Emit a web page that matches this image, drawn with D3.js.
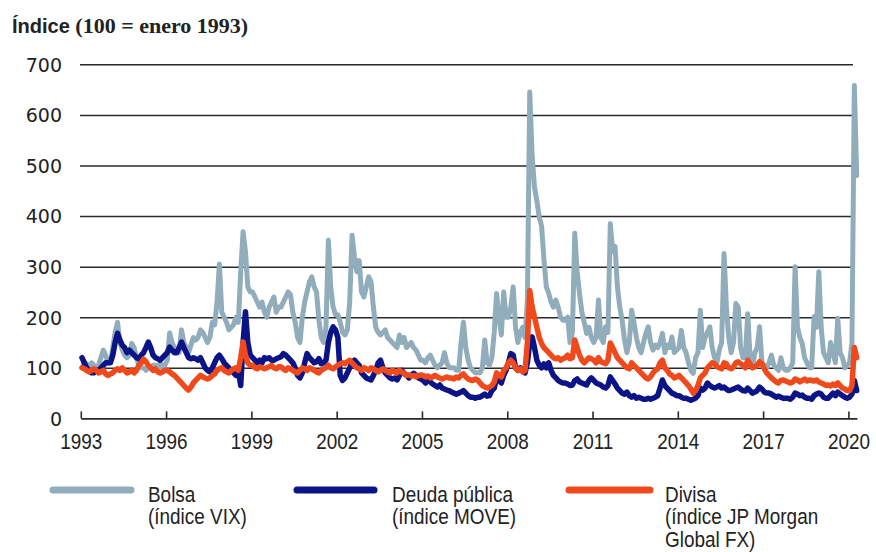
<!DOCTYPE html>
<html><head><meta charset="utf-8">
<script src="https://cdn.jsdelivr.net/npm/d3@7"></script>
<style>
html,body{margin:0;padding:0;background:#fff;}
svg{display:block;}
</style></head>
<body>
<svg id="chart" width="876" height="552"></svg>
<script>
// ---- DATA (monthly, starting January 1993; index 100 = January 1993) ----
const startYear = 1993;
const xTickYears = [1993, 1996, 1999, 2002, 2005, 2008, 2011, 2014, 2017, 2020];
const yTicks = [0, 100, 200, 300, 400, 500, 600, 700];
const seriesNames = ["Bolsa", "Deuda pública", "Divisa"];
const legendLines = [["Bolsa", "(índice VIX)"], ["Deuda pública", "(índice MOVE)"], ["Divisa", "(índice JP Morgan", "Global FX)"]];
const titleMain = "Índice";
const titleRest = "(100 = enero 1993)";

const bolsa = [
100,110,108,100,110,105,100,105,120,135,125,110,
110,140,170,190,150,135,125,120,125,148,140,120,
105,100,100,95,100,100,105,105,100,110,100,105,
115,169,150,140,135,130,175,150,140,130,145,160,
155,160,175,170,160,150,160,190,185,230,305,210,
200,190,175,180,185,200,190,290,369,330,260,250,
250,240,230,220,230,210,200,220,230,240,210,220,
220,230,240,250,245,210,190,160,150,200,230,250,
270,280,260,250,194,160,150,180,352,260,220,205,
205,190,170,165,175,230,362,320,290,312,250,240,
260,280,270,220,180,170,165,170,175,160,155,150,
145,140,165,150,160,140,145,150,140,135,125,115,
115,110,120,125,115,105,100,105,110,130,110,100,
100,100,95,95,150,190,140,115,100,95,90,90,
90,100,155,110,105,120,170,247,200,165,250,200,
200,220,260,180,150,170,180,160,234,645,520,457,
430,398,380,313,260,247,230,220,234,220,200,194,
194,200,150,170,366,290,247,210,190,168,180,160,
150,160,234,160,150,181,170,385,330,340,260,220,
194,155,130,150,214,190,160,140,130,150,168,181,
150,135,145,140,150,168,130,145,140,161,130,135,
140,174,140,130,110,95,89,120,130,214,140,160,
170,181,140,120,110,135,150,326,220,160,130,150,
227,220,140,120,120,207,120,100,130,140,181,110,
105,100,110,125,105,100,95,120,100,95,95,100,
110,300,180,160,148,120,110,100,100,201,180,290,
180,130,120,110,150,130,110,198,130,120,100,105,
110,150,658,480];

const deuda = [
120,110,100,95,90,90,95,95,100,105,110,110,
110,125,150,168,155,145,140,130,135,130,125,120,
118,125,130,140,151,140,125,120,118,115,120,125,
130,141,135,130,130,140,151,140,130,120,118,120,
118,115,120,110,100,95,92,100,110,120,125,118,
110,105,100,95,90,85,95,65,150,211,150,125,
120,115,110,115,110,120,118,120,115,115,118,120,
122,128,125,120,115,110,100,85,80,90,110,128,
120,115,110,112,118,108,110,115,150,170,181,175,
160,85,75,80,90,100,110,115,110,105,90,85,
80,78,76,85,95,110,115,100,90,85,80,78,
80,76,85,95,89,85,80,85,89,85,80,78,
75,70,80,72,68,65,62,66,60,58,56,55,
52,50,48,50,52,55,50,45,42,42,40,42,
42,45,48,44,45,55,60,80,75,70,85,95,
110,128,125,100,95,100,95,90,110,150,161,140,
115,105,100,108,100,110,95,85,80,75,72,70,
70,68,65,66,75,78,72,70,68,66,75,80,
75,70,68,66,62,60,65,82,75,68,60,55,
50,48,52,45,42,45,40,42,40,38,38,40,
38,40,42,45,60,76,65,60,55,50,48,45,
45,42,40,40,38,36,38,40,45,60,56,60,
70,65,62,60,62,65,60,62,58,55,56,58,
60,62,58,55,54,60,55,50,52,55,62,58,
52,50,50,48,45,42,44,42,40,40,40,38,
42,50,48,45,46,42,40,40,38,45,48,50,
48,42,40,40,45,50,45,52,48,45,42,40,
42,48,75,55];

const divisa = [
100,98,95,92,95,98,95,90,92,95,88,85,
88,90,95,98,95,100,95,90,92,95,90,95,
105,110,117,112,105,100,95,98,92,90,92,95,
95,92,88,85,80,75,70,65,60,56,62,70,
75,80,85,82,80,78,80,85,88,95,98,100,
95,92,90,95,98,100,95,120,151,125,110,105,
105,100,98,102,100,98,100,102,105,100,98,102,
102,98,95,100,98,95,92,90,95,100,98,95,
100,98,95,92,90,95,98,100,105,100,98,102,
105,108,110,108,112,115,110,105,100,98,95,100,
98,95,100,98,95,92,95,98,95,92,90,95,
92,90,95,92,88,85,86,84,85,82,85,86,
85,82,84,80,82,85,82,80,78,80,82,80,
80,78,82,80,85,88,82,78,76,75,78,76,
70,65,62,60,62,65,72,90,85,82,95,100,
110,115,110,100,95,98,92,95,150,253,220,200,
180,160,148,140,135,130,125,120,118,120,115,118,
120,125,118,120,155,140,125,115,110,115,120,118,
115,110,120,112,110,108,115,149,140,130,120,115,
110,105,100,98,110,105,100,95,90,85,80,78,
82,90,95,98,110,115,100,95,88,85,80,82,
85,80,75,70,65,58,50,55,65,80,85,90,
100,105,110,108,102,100,98,110,108,100,98,102,
110,112,108,105,100,115,108,100,102,105,112,108,
98,90,85,80,76,72,70,75,76,74,72,70,
72,78,76,72,75,78,74,76,75,74,76,72,
70,68,65,66,64,68,65,70,65,60,58,55,
55,65,140,120];

const colors = ["#91adbb", "#0b1487", "#f0491c"];

// ---- LAYOUT ----
const svg = d3.select("#chart");
const x0 = 80.8, yearPx = 28.43;
const x = d3.scaleLinear().domain([1993, 2020.3]).range([x0, x0 + 27.3 * yearPx]);
const y = d3.scaleLinear().domain([0, 700]).range([418.4, 64.3]);
const gridRight = 853;

const sans = "'Liberation Sans', Arial, sans-serif";

// title
const t = svg.append("text").attr("x", 12).attr("y", 33).attr("fill", "#222");
t.append("tspan").attr("font-family", sans).attr("font-weight", "bold").attr("font-size", 20).text(titleMain + " ");
t.append("tspan").attr("font-family", "'Liberation Serif', serif").attr("font-weight", "bold").attr("font-size", 22).text(titleRest);

// gridlines
const grid = svg.append("g").attr("transform", `translate(80,0)`)
  .call(d3.axisLeft(y).tickValues(yTicks.filter(v => v > 0)).tickSize(-(gridRight - 80)).tickFormat(""));
grid.select(".domain").remove();
grid.selectAll(".tick line").attr("stroke", "#2a2a2a").attr("stroke-width", 1.5);

// y labels
const yl = svg.append("g").attr("transform", `translate(62,0)`)
  .call(d3.axisLeft(y).tickValues(yTicks).tickSize(0).tickPadding(0));
yl.select(".domain").remove();
yl.selectAll("text").attr("font-family", "'DejaVu Sans', Verdana, sans-serif").attr("font-size", 19).attr("fill", "#222").attr("dy", "0.36em");

// lines
const line = d3.line().x((d, i) => x(startYear + (i + 0.5) / 12)).y(d => y(d)).curve(d3.curveLinear);
[bolsa, deuda, divisa].forEach((s, k) => {
  svg.append("path").datum(s).attr("d", line).attr("fill", "none")
    .attr("stroke", colors[k]).attr("stroke-width", k === 0 ? 5 : 5.5)
    .attr("stroke-linejoin", "round").attr("stroke-linecap", "round");
});

// x axis
const xa = svg.append("g").attr("transform", `translate(0,${y(0)})`)
  .call(d3.axisBottom(x).tickValues(xTickYears).tickFormat(d3.format("d")).tickSizeInner(-7).tickSizeOuter(0));
xa.select(".domain").attr("stroke", "#2a2a2a").attr("stroke-width", 1.6);
xa.selectAll(".tick line").attr("stroke", "#2a2a2a").attr("stroke-width", 1.6);
xa.selectAll("text").attr("y", 31).attr("dy", 0).attr("font-family", sans).attr("font-size", 22)
  .attr("fill", "#222").attr("transform", "scale(0.86,1)");

// legend
const legX = [[53, 131, 148], [297, 374, 392], [569, 650, 665]];
legendLines.forEach((lines, k) => {
  svg.append("line").attr("x1", legX[k][0]).attr("x2", legX[k][1]).attr("y1", 490).attr("y2", 490)
    .attr("stroke", colors[k]).attr("stroke-width", 7).attr("stroke-linecap", "round");
  const g = svg.append("g").attr("transform", `translate(${legX[k][2]},0) scale(0.88,1)`);
  const tx = g.append("text").attr("x", 0).attr("y", 502)
    .attr("font-family", sans).attr("font-size", 21.5).attr("fill", "#222");
  lines.forEach((s, j) => tx.append("tspan").attr("x", 0).attr("y", 502 + j * 22.5).text(s));
});
</script>
</body></html>
